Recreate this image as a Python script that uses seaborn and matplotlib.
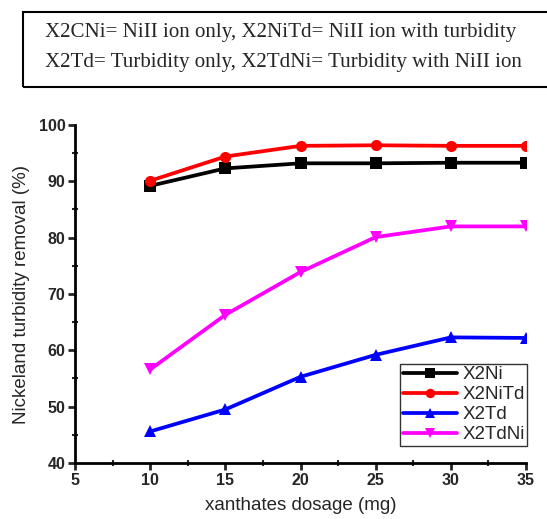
import matplotlib
matplotlib.use("Agg")
import matplotlib.pyplot as plt
from matplotlib.ticker import MultipleLocator
import seaborn as sns
import pandas as pd

dosage = [10, 15, 20, 25, 30, 35]
x2ni = [89.2, 92.3, 93.2, 93.2, 93.3, 93.3]
x2nitd = [90.1, 94.4, 96.3, 96.4, 96.3, 96.3]
x2td = [45.6, 49.5, 55.3, 59.2, 62.3, 62.2]
x2tdni = [56.6, 66.3, 73.9, 80.1, 82.0, 82.0]

series_names = ["X2Ni", "X2NiTd", "X2Td", "X2TdNi"]
series_vals = [x2ni, x2nitd, x2td, x2tdni]
colors = ["black", "red", "blue", "magenta"]
markers = ["s", "o", "^", "v"]

rows = []
for name, vals in zip(series_names, series_vals):
    for d, v in zip(dosage, vals):
        rows.append({"dosage": d, "removal": v, "series": name})
df = pd.DataFrame(rows)

sns.set_style("white")
plt.rcParams["font.family"] = ["Liberation Sans", "DejaVu Sans"]

fig = plt.figure(figsize=(5.47, 5.19), dpi=100)
ax = fig.add_axes([75 / 547, 1 - 463 / 519, (526 - 75) / 547, (463 - 125) / 519])

sns.lineplot(data=df, x="dosage", y="removal", hue="series", style="series",
             hue_order=series_names, style_order=series_names,
             palette=dict(zip(series_names, colors)),
             markers=dict(zip(series_names, markers)), dashes=False,
             linewidth=2.7, markersize=8, markeredgewidth=0, ax=ax)

ax.set_xlim(5, 35)
ax.set_ylim(40, 100)
ax.xaxis.set_major_locator(MultipleLocator(5))
ax.xaxis.set_minor_locator(MultipleLocator(2.5))
ax.yaxis.set_major_locator(MultipleLocator(10))
ax.yaxis.set_minor_locator(MultipleLocator(5))
for side in ["top", "right"]:
    ax.spines[side].set_visible(False)
for side in ["left", "bottom"]:
    ax.spines[side].set_linewidth(2)
    ax.spines[side].set_color("black")
ax.tick_params(axis="both", which="major", direction="out", length=5, width=2,
               labelsize=11.5, pad=2)
ax.tick_params(axis="both", which="minor", direction="inout", length=4, width=1.5)
ax.tick_params(axis="both", which="both", bottom=True, left=True)
for lab in ax.get_xticklabels() + ax.get_yticklabels():
    lab.set_fontweight("bold")

ax.set_xlabel("xanthates dosage (mg)", fontsize=13.5, labelpad=7)
ax.set_ylabel("Nickeland turbidity removal (%)", fontsize=13.5, labelpad=6)

leg = ax.legend(loc="lower right", bbox_to_anchor=(1.003, 0.05), fontsize=13.5,
                frameon=True, fancybox=False, edgecolor="black",
                borderpad=0.15, labelspacing=0.15, handlelength=2.9,
                handletextpad=0.25, borderaxespad=0, markerscale=0.85)
leg.get_frame().set_linewidth(1)

fig.text(45 / 547, 1 - 33 / 519,
         "X2CNi= NiII ion only, X2NiTd= NiII ion with turbidity",
         family=["Liberation Serif"], fontsize=15.1, va="center", ha="left")
fig.text(45 / 547, 1 - 62 / 519,
         "X2Td= Turbidity only, X2TdNi= Turbidity with NiII ion",
         family=["Liberation Serif"], fontsize=15.1, va="center", ha="left")
fig.patches.append(plt.Rectangle((23 / 547, 1 - 87 / 519), (560 - 23) / 547, 75 / 519,
                                 transform=fig.transFigure, fill=False,
                                 edgecolor="black", linewidth=1.5, clip_on=False))

fig.savefig("out.png", dpi=100)
